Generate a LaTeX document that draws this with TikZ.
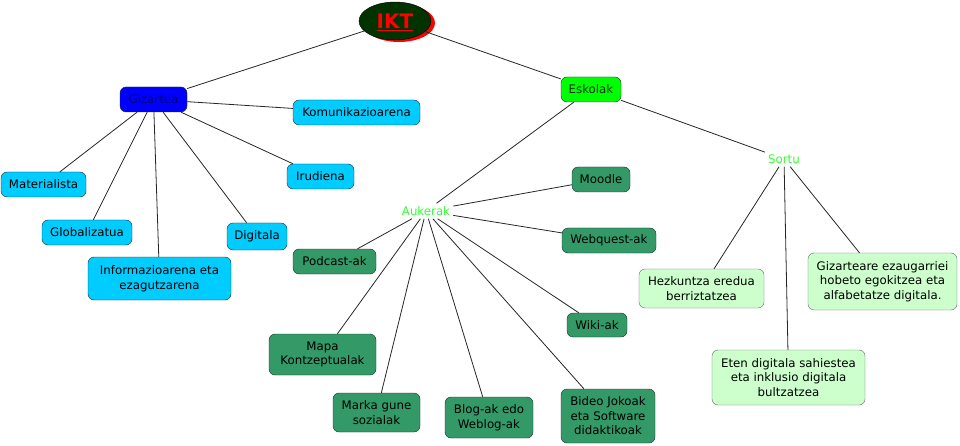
\documentclass[tikz,border=0pt]{standalone}
\usepackage{fontspec}
\setmainfont{DejaVu Sans}
\usepackage{xcolor}
\definecolor{ciano}{RGB}{0,204,255}
\definecolor{azul}{RGB}{0,0,255}
\definecolor{marinho}{RGB}{0,0,128}
\definecolor{verdeclaro}{RGB}{0,255,0}
\definecolor{verdeescuro}{RGB}{0,51,0}
\definecolor{verdemar}{RGB}{51,153,102}
\definecolor{menta}{RGB}{204,255,204}
\definecolor{vermelho}{RGB}{255,0,0}
\definecolor{borda}{RGB}{30,45,50}
\usepackage{tikz}
\usetikzlibrary{shapes.geometric, positioning, calc}

\newsavebox{\caixaikt}
\newcommand{\sublinhado}[1]{\sbox{\caixaikt}{#1}%
  \rlap{\usebox{\caixaikt}}\rule[-3pt]{\wd\caixaikt}{1.4pt}}

\begin{document}
\begin{tikzpicture}[x=1pt, y=-1pt,
    cbox/.style={rectangle, rounded corners=6pt, draw=borda, fill=ciano,
                 minimum height=25pt, font=\fontsize{11.8}{14.5}\selectfont,
                 align=center, inner sep=2pt},
    dbox/.style={rectangle, rounded corners=6pt, draw=borda, fill=verdemar,
                 minimum height=25pt, font=\fontsize{11.8}{14.5}\selectfont,
                 align=center, inner sep=2pt},
    lbox/.style={rectangle, rounded corners=6pt, draw=borda!70, fill=menta,
                 minimum height=25pt, font=\fontsize{11.8}{14.5}\selectfont,
                 align=center, inner sep=2pt},
    bbox/.style={rectangle, rounded corners=6pt, draw=borda, fill=azul,
                 minimum height=25pt, text=marinho,
                 font=\fontsize{11.8}{14.5}\selectfont, inner sep=2pt},
    ebox/.style={rectangle, rounded corners=6pt, draw=borda, fill=verdeclaro,
                 minimum height=25pt, text=verdeescuro,
                 font=\fontsize{11.8}{14.5}\selectfont, inner sep=2pt},
    root/.style={ellipse, draw=black, fill=verdeescuro,
                 minimum width=72pt, minimum height=38pt, inner sep=0pt,
                 text height=15pt, text depth=0pt,
                 text=vermelho, font=\fontsize{20}{22}\selectfont\bfseries},
    lbl/.style={text=verdeclaro!80!white, font=\fontsize{11.8}{14.5}\selectfont,
                inner sep=3pt},
    arr/.style={draw=black!85, line width=0.8pt}
  ]

  \useasboundingbox (0,0) rectangle (960,446);

  % raiz
  \fill[vermelho] (399,23) ellipse (36pt and 19pt);
  \node[root] (ikt) at (395,21) {\sublinhado{IKT}};

  % gizartea
  \node[bbox, minimum width=67pt]  (giz)   at (153.5,99.5)  {Gizartea};
  \node[cbox, minimum width=127pt] (komu)  at (356.5,112.5) {Komunikazioarena};
  \node[cbox, minimum width=67pt]  (irud)  at (320.5,176.5) {Irudiena};
  \node[cbox, minimum width=85pt]  (mate)  at (43.5,184.5)  {Materialista};
  \node[cbox, minimum width=90pt]  (glob)  at (87,232.5)    {Globalizatua};
  \node[cbox, minimum width=143pt, minimum height=43pt]
                                   (info)  at (159.5,278.5) {Informazioarena eta\\ezagutzarena};
  \node[cbox, minimum width=60pt, minimum height=27pt]
                                   (digi)  at (257,236.5)   {Digitala};

  % eskolak
  \node[ebox, minimum width=60pt]  (esko)  at (591,89.5)    {Eskolak};
  \node[lbl] (auke) at (426,211) {Aukerak};
  \node[lbl] (sort) at (784,159) {Sortu};

  \node[dbox, minimum width=58pt]  (mood)  at (601,179.5)   {Moodle};
  \node[dbox, minimum width=94pt]  (webq)  at (609,240.5)   {Webquest-ak};
  \node[dbox, minimum width=60pt, minimum height=24pt]
                                   (wiki)  at (597,325)     {Wiki-ak};
  \node[dbox, minimum width=83pt]  (podc)  at (334.5,261.5) {Podcast-ak};
  \node[dbox, minimum width=107pt, minimum height=41pt]
                                   (mapa)  at (322.5,354.5) {Mapa\\Kontzeptualak};
  \node[dbox, minimum width=87pt, minimum height=39pt]
                                   (mark)  at (376.5,412.5) {Marka gune\\sozialak};
  \node[dbox, minimum width=88pt, minimum height=41pt]
                                   (blog)  at (489,417.5)   {Blog-ak edo\\Weblog-ak};
  \node[dbox, minimum width=94pt, minimum height=54pt]
                                   (bide)  at (608,416)     {Bideo Jokoak\\eta Software\\didaktikoak};

  \node[lbox, minimum width=125pt, minimum height=39pt]
                                   (hezk)  at (701.5,288.5) {Hezkuntza eredua\\berriztatzea};
  \node[lbox, minimum width=149pt, minimum height=57pt]
                                   (ezau)  at (882.5,281.5) {Gizarteare ezaugarriei\\hobeto egokitzea eta\\alfabetatze digitala.};
  \node[lbox, minimum width=153pt, minimum height=55pt]
                                   (eten)  at (788.5,377.5) {Eten digitala sahiestea\\eta inklusio digitala\\bultzatzea};

  % loturak
  \draw[arr] (ikt) -- (giz);
  \draw[arr] (ikt) -- (esko);
  \foreach \n in {komu,irud,mate,glob,info,digi}
    \draw[arr] (giz) -- (\n);
  \foreach \n in {auke,sort}
    \draw[arr] (esko) -- (\n);
  \foreach \n in {mood,webq,wiki,podc,mapa,mark,blog,bide}
    \draw[arr] (auke) -- (\n);
  \foreach \n in {hezk,ezau,eten}
    \draw[arr] (sort) -- (\n);

\end{tikzpicture}
\end{document}
